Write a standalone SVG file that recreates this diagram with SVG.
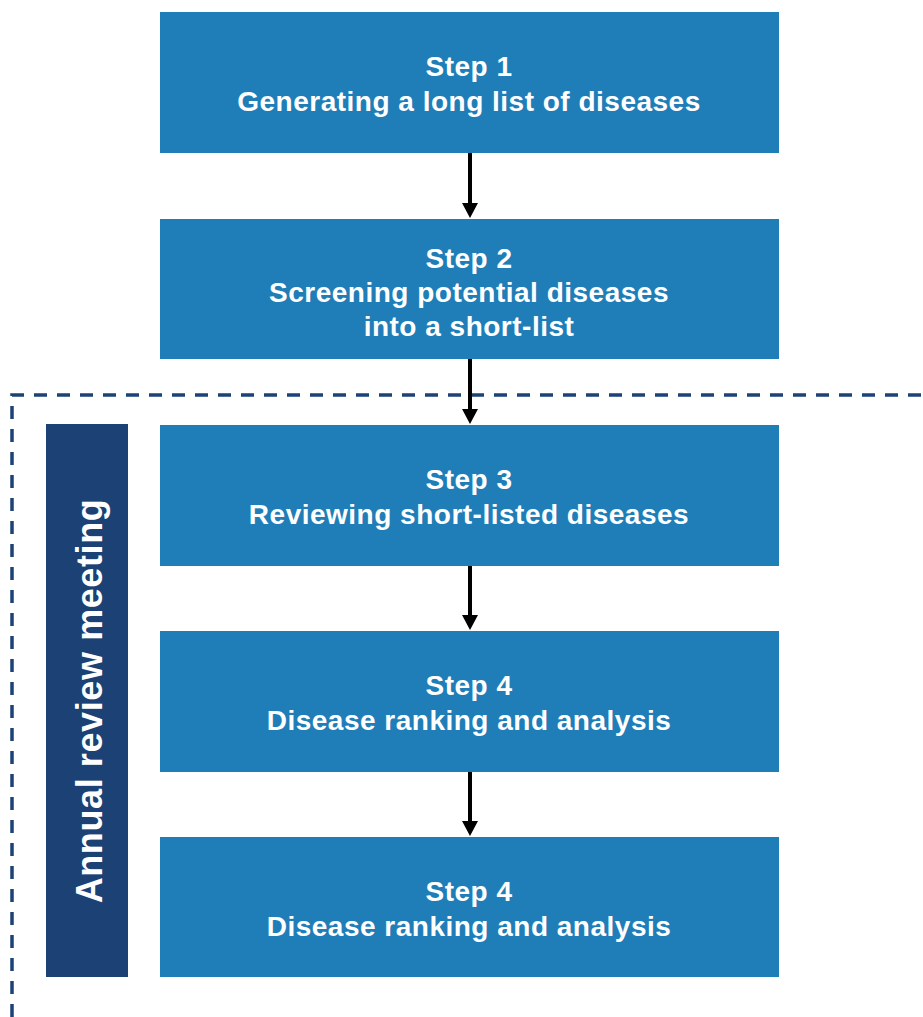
<svg xmlns="http://www.w3.org/2000/svg" width="923" height="1017" viewBox="0 0 923 1017">
<defs>
<style>
.box{fill:#1f7eb8}
.t{font-family:"Liberation Sans",Arial,sans-serif;font-weight:bold;font-size:28px;letter-spacing:0.5px;fill:#fff;text-anchor:middle}
.c{stroke:#000;stroke-width:4;fill:none}
</style>
</defs>
<rect width="923" height="1017" fill="#fff"/>
<g id="frame">
<path d="M12,1017 L12,395 L923,395" fill="none" stroke="#1c4277" stroke-width="3.5" stroke-dasharray="13,10"/>
</g>
<g id="annual">
<rect x="46" y="424" width="82" height="553" fill="#1b4175"/>
<text transform="translate(102,701) rotate(-90)" font-family="Liberation Sans,Arial,sans-serif" font-weight="bold" font-size="36" letter-spacing="0.6" fill="#fff" text-anchor="middle">Annual review meeting</text>
</g>
<g id="connectors">
<line class="c" x1="470" y1="153" x2="470" y2="205"/>
<path d="M462,203 L478,203 L470,218 Z"/>
<line class="c" x1="470" y1="359" x2="470" y2="411"/>
<path d="M462,409 L478,409 L470,424 Z"/>
<line class="c" x1="470" y1="566" x2="470" y2="617"/>
<path d="M462,615 L478,615 L470,630 Z"/>
<line class="c" x1="470" y1="772" x2="470" y2="823"/>
<path d="M462,821 L478,821 L470,836 Z"/>
</g>
<g id="step1">
<rect class="box" x="160" y="12" width="619" height="141"/>
<text class="t" x="469" y="76">Step 1</text>
<text class="t" x="469" y="111">Generating a long list of diseases</text>
</g>
<g id="step2">
<rect class="box" x="160" y="219" width="619" height="140"/>
<text class="t" x="469" y="268">Step 2</text>
<text class="t" x="469" y="302">Screening potential diseases</text>
<text class="t" x="469" y="336">into a short-list</text>
</g>
<g id="step3">
<rect class="box" x="160" y="425" width="619" height="141"/>
<text class="t" x="469" y="489">Step 3</text>
<text class="t" x="469" y="524">Reviewing short-listed diseases</text>
</g>
<g id="step4a">
<rect class="box" x="160" y="631" width="619" height="141"/>
<text class="t" x="469" y="695">Step 4</text>
<text class="t" x="469" y="730">Disease ranking and analysis</text>
</g>
<g id="step4b">
<rect class="box" x="160" y="837" width="619" height="140"/>
<text class="t" x="469" y="901">Step 4</text>
<text class="t" x="469" y="936">Disease ranking and analysis</text>
</g>
</svg>
